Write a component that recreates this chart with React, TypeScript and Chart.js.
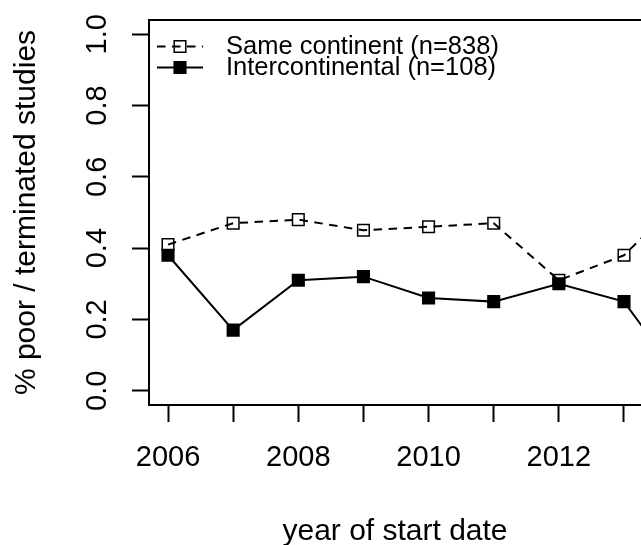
import React, { useEffect, useRef } from "react";
import { Chart, registerables } from "chart.js";

Chart.register(...registerables);

// ---- data ----
const years = [2006, 2007, 2008, 2009, 2010, 2011, 2012, 2013, 2014];
const sameContinent = [0.41, 0.47, 0.48, 0.45, 0.46, 0.47, 0.31, 0.38, 0.56];
const intercontinental = [0.38, 0.17, 0.31, 0.32, 0.26, 0.25, 0.3, 0.25, 0.0];
const seriesLabels = ["Same continent (n=838)", "Intercontinental (n=108)"];
const xTickValues = [2006, 2007, 2008, 2009, 2010, 2011, 2012, 2013];
const xLabelledYears = [2006, 2008, 2010, 2012];
const yTickValues = [0, 0.2, 0.4, 0.6, 0.8, 1.0];
const xTitle = "year of start date";
const yTitle = "% poor / terminated studies";

const FONT = "'Liberation Sans', Arial, Helvetica, sans-serif";

const frameTopPlugin = {
  id: "frameTop",
  beforeDatasetsDraw(chart: any) {
    const { ctx, chartArea } = chart;
    ctx.save();
    ctx.strokeStyle = "#000";
    ctx.lineWidth = 2;
    ctx.beginPath();
    ctx.moveTo(chartArea.left - 1, chartArea.top);
    ctx.lineTo(chartArea.right + 2, chartArea.top);
    ctx.stroke();
    ctx.restore();
  },
};

const legendPlugin = {
  id: "rLegend",
  afterDatasetsDraw(chart: any) {
    const ctx = chart.ctx;
    const x0 = 157;
    const x1 = 203;
    const xm = 180;
    const y0 = 46.5;
    const dy = 21;
    const tx = 226;
    chart.data.datasets.forEach((ds: any, i: number) => {
      const y = y0 + i * dy;
      ctx.save();
      ctx.strokeStyle = ds.borderColor;
      ctx.lineWidth = ds.borderWidth;
      ctx.setLineDash(ds.borderDash || []);
      ctx.beginPath();
      ctx.moveTo(x0, y);
      ctx.lineTo(x1, y);
      ctx.stroke();
      ctx.setLineDash([]);
      const s = Math.SQRT1_2 * ds.pointRadius;
      ctx.lineWidth = ds.pointBorderWidth;
      ctx.strokeStyle = ds.pointBorderColor;
      ctx.beginPath();
      ctx.rect(xm - s, y - s, 2 * s, 2 * s);
      if (ds.pointBackgroundColor !== "transparent") {
        ctx.fillStyle = ds.pointBackgroundColor;
        ctx.fill();
      }
      ctx.stroke();
      ctx.font = `25.5px ${FONT}`;
      ctx.fillStyle = "#000";
      ctx.textBaseline = "middle";
      ctx.textAlign = "left";
      ctx.fillText(ds.label, tx, y);
      ctx.restore();
    });
  },
};

const zeroPadding = (s: any) => {
  s.paddingTop = 0;
  s.paddingBottom = 0;
  s.paddingLeft = 0;
  s.paddingRight = 0;
};

export default function App() {
  const ref = useRef<HTMLCanvasElement>(null);

  useEffect(() => {
    const gridOpts = {
      display: true,
      drawOnChartArea: false,
      drawTicks: true,
      tickLength: 17,
      tickWidth: 2,
      tickColor: "#000",
    };
    const borderOpts = { display: true, color: "#000", width: 2 };

    const chart = new Chart(ref.current as HTMLCanvasElement, {
      type: "line",
      data: {
        datasets: [
          {
            label: seriesLabels[0],
            data: years.map((x, i) => ({ x, y: sameContinent[i] })),
            borderColor: "#000",
            backgroundColor: "transparent",
            borderWidth: 2,
            borderDash: [8.5, 6.5],
            pointStyle: "rect",
            pointRadius: 8.2,
            pointBorderWidth: 1.5,
            pointBorderColor: "#000",
            pointBackgroundColor: "transparent",
            tension: 0,
            order: 2,
          },
          {
            label: seriesLabels[1],
            data: years.map((x, i) => ({ x, y: intercontinental[i] })),
            borderColor: "#000",
            backgroundColor: "#000",
            borderWidth: 2,
            pointStyle: "rect",
            pointRadius: 8.2,
            pointBorderWidth: 1.5,
            pointBorderColor: "#000",
            pointBackgroundColor: "#000",
            tension: 0,
            order: 1,
          },
        ],
      } as any,
      options: {
        animation: false,
        responsive: false,
        devicePixelRatio: 1,
        layout: {
          autoPadding: false,
          padding: { top: 20, right: 0, left: 0, bottom: 0 },
        },
        plugins: {
          legend: { display: false },
          tooltip: { enabled: false },
        },
        scales: {
          x: {
            type: "linear",
            min: 2005.708,
            max: 2013.261,
            afterBuildTicks: (s: any) => {
              s.ticks = xTickValues.map((v) => ({ value: v }));
            },
            afterFit: (s: any) => {
              s.height = 140;
              zeroPadding(s);
            },
            ticks: {
              autoSkip: false,
              maxRotation: 0,
              minRotation: 0,
              padding: 19,
              color: "#000",
              font: { family: FONT, size: 29 },
              callback: (v: any) =>
                xLabelledYears.includes(Number(v)) ? String(v) : "",
            },
            grid: gridOpts,
            border: borderOpts,
            title: {
              display: true,
              text: xTitle,
              color: "#000",
              font: { family: FONT, size: 30 },
              padding: { top: 0, bottom: -5 },
            },
          },
          y: {
            type: "linear",
            min: -0.04,
            max: 1.04,
            afterBuildTicks: (s: any) => {
              s.ticks = yTickValues.map((v) => ({ value: v }));
            },
            afterFit: (s: any) => {
              s.width = 149;
              zeroPadding(s);
            },
            ticks: {
              autoSkip: false,
              minRotation: 90,
              maxRotation: 90,
              crossAlign: "center",
              padding: 14,
              color: "#000",
              font: { family: FONT, size: 29 },
              callback: (v: any) => Number(v).toFixed(1),
            },
            grid: gridOpts,
            border: borderOpts,
            title: {
              display: true,
              text: yTitle,
              color: "#000",
              font: { family: FONT, size: 30 },
              padding: { top: 9, bottom: 0 },
            },
          },
        },
      } as any,
      plugins: [frameTopPlugin, legendPlugin],
    });
    return () => chart.destroy();
  }, []);

  return (
    <div
      style={{
        position: "fixed",
        left: 0,
        top: 0,
        width: 641,
        height: 545,
        background: "#fff",
        overflow: "hidden",
      }}
    >
      <canvas
        ref={ref}
        width={641}
        height={545}
        style={{ display: "block", width: 641, height: 545 }}
      />
    </div>
  );
}
